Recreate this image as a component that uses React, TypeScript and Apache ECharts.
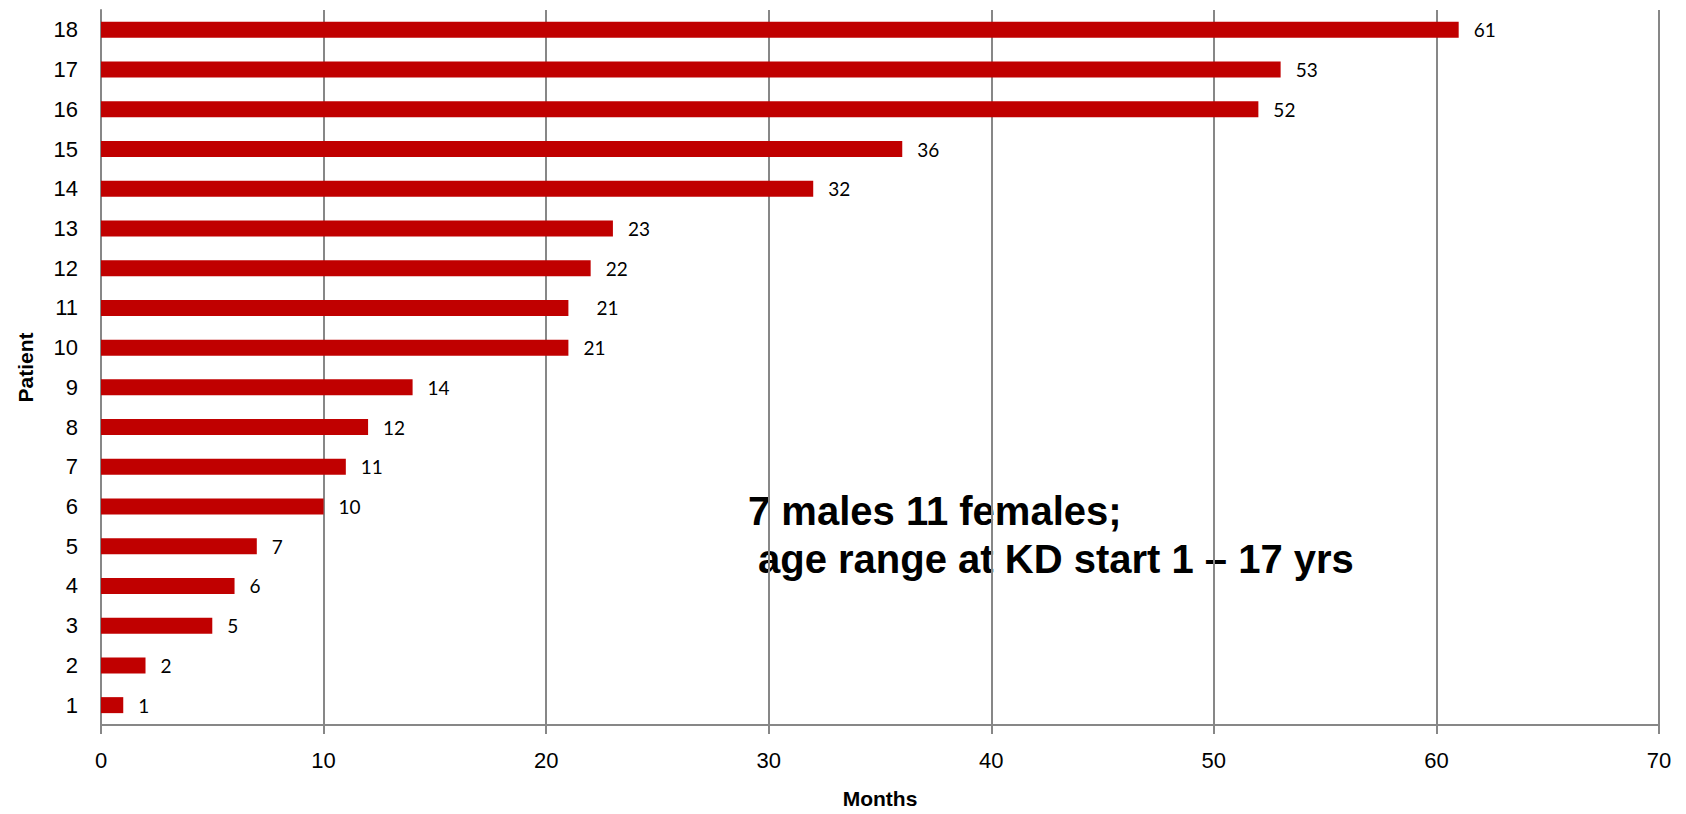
import React, { useEffect, useRef } from "react";
import * as echarts from "echarts";

const patients = ["1", "2", "3", "4", "5", "6", "7", "8", "9", "10", "11", "12", "13", "14", "15", "16", "17", "18"];
const months = [1, 2, 5, 6, 7, 10, 11, 12, 14, 21, 21, 22, 23, 32, 36, 52, 53, 61];
const xTicks = { min: 0, max: 70, interval: 10 };
const noteLines = ["7 males 11 females;", "age range at KD start 1 \u2013 17 yrs"];

export default function App() {
  const ref = useRef<HTMLDivElement>(null);
  useEffect(() => {
    document.body.style.margin = "0";
    document.body.style.overflow = "hidden";
    const chart = echarts.init(ref.current!, null, { renderer: "svg" });
    const axisColor = "#878787";
    const barData = months.map((v, i) =>
      i === 10 ? { value: v, label: { distance: 28 } } : v
    );
    chart.setOption({
      animation: false,
      backgroundColor: "#ffffff",
      grid: { left: 101, right: 27, top: 10, bottom: 88, containLabel: false },
      xAxis: {
        type: "value",
        min: xTicks.min,
        max: xTicks.max,
        interval: xTicks.interval,
        name: "Months",
        nameLocation: "middle",
        nameGap: 63,
        nameTextStyle: {
          fontFamily: "Liberation Sans",
          fontWeight: "bold",
          fontSize: 21,
          color: "#000",
        },
        axisLine: { show: true, lineStyle: { color: axisColor, width: 2 } },
        axisTick: { show: true, length: 9, lineStyle: { color: axisColor, width: 2 } },
        axisLabel: { fontFamily: "Liberation Sans", fontSize: 22, color: "#000", margin: 24 },
        splitLine: { show: true, lineStyle: { color: axisColor, width: 2 } },
      },
      yAxis: {
        type: "category",
        data: patients,
        name: "Patient",
        nameLocation: "middle",
        nameRotate: 90,
        nameGap: 65,
        nameTextStyle: { fontFamily: "Liberation Sans", fontWeight: "bold", fontSize: 21, color: "#000" },
        axisLine: { show: true, lineStyle: { color: axisColor, width: 2 } },
        axisTick: { show: false },
        axisLabel: { fontFamily: "Liberation Sans", fontSize: 22, color: "#000", margin: 23 },
        splitLine: { show: false },
      },
      series: [
        {
          type: "bar",
          data: barData,
          barWidth: 16,
          itemStyle: { color: "#C00000" },
          label: {
            show: true,
            position: "right",
            distance: 15,
            fontFamily: "Lato",
            fontSize: 19,
            color: "#000",
          },
        },
      ],
      graphic: [
        {
          type: "text",
          x: 748,
          y: 511,
          style: {
            text: noteLines[0],
            fontFamily: "Liberation Sans",
            fontWeight: "bold",
            fontSize: 40,
            fill: "#000",
            verticalAlign: "middle",
          },
        },
        {
          type: "text",
          x: 758,
          y: 559,
          style: {
            text: noteLines[1],
            fontFamily: "Liberation Sans",
            fontWeight: "bold",
            fontSize: 40,
            fill: "#000",
            verticalAlign: "middle",
          },
        },
      ],
    });
    return () => chart.dispose();
  }, []);
  return <div ref={ref} style={{ width: 1686, height: 814 }} />;
}
